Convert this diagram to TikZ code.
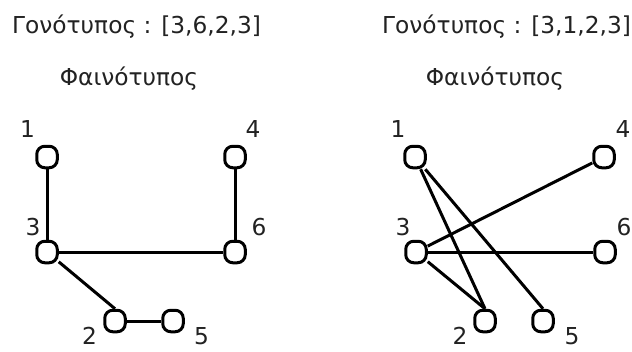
\documentclass[tikz,border=0pt]{standalone}
\usepackage{fontspec}
\setmainfont{DejaVu Sans}
\definecolor{txt}{HTML}{222222}
\begin{document}
\begin{tikzpicture}[x=1pt,y=-1pt,
  vtx/.style={draw, rectangle, line width=3pt, rounded corners=8pt, minimum width=20.5pt, minimum height=21.5pt, inner sep=0pt, fill=white},
  lbl/.style={font=\fontsize{23.3}{25}\selectfont, text=txt, inner sep=0pt},
  edge/.style={line width=3pt}]
\useasboundingbox (0,0) rectangle (632,351);
% titles
\node[lbl, anchor=base west] (t1) at (12,33) {Γονότυπος : [3,6,2,3]};
\node[lbl, anchor=base west] (t2) at (382,33) {Γονότυπος : [3,1,2,3]};
\node[lbl, anchor=base] (p1) at (129,85) {Φαινότυπος};
\node[lbl, anchor=base] (p2) at (495,85) {Φαινότυπος};
% left graph
\node[vtx] (l1) at (47,157) {};
\node[vtx] (l4) at (235,157) {};
\node[vtx] (l3) at (47,252) {};
\node[vtx] (l6) at (235,252) {};
\node[vtx] (l2) at (115,321) {};
\node[vtx] (l5) at (173,321) {};
\node[lbl] (ll1) at (27.5,129) {1};
\node[lbl] (ll4) at (253,129) {4};
\node[lbl] (ll3) at (33,227) {3};
\node[lbl] (ll6) at (259,227) {6};
\node[lbl] (ll2) at (89.5,336) {2};
\node[lbl] (ll5) at (201.5,336) {5};
\draw[edge] (l1) -- (l3);
\draw[edge] (l4) -- (l6);
\draw[edge] (l3) -- (l6);
\draw[edge] (l3) -- (l2.north);
\draw[edge] (l2) -- (l5);
% right graph
\node[vtx] (r1) at (415,157) {};
\node[vtx] (r4) at (604,157) {};
\node[vtx] (r3) at (416,252) {};
\node[vtx] (r6) at (605,252) {};
\node[vtx] (r2) at (485,321) {};
\node[vtx] (r5) at (543,321) {};
\node[lbl] (rl1) at (398,129) {1};
\node[lbl] (rl4) at (623,129) {4};
\node[lbl] (rl3) at (403,227) {3};
\node[lbl] (rl6) at (624,227) {6};
\node[lbl] (rl2) at (460,336) {2};
\node[lbl] (rl5) at (572,336) {5};
\draw[edge] (r1) -- (r2.north);
\draw[edge] (r1) -- (r5.north);
\draw[edge] (r3) -- (r4);
\draw[edge] (r3) -- (r6);
\draw[edge] (r3) -- (r2.north);
\end{tikzpicture}
\end{document}
